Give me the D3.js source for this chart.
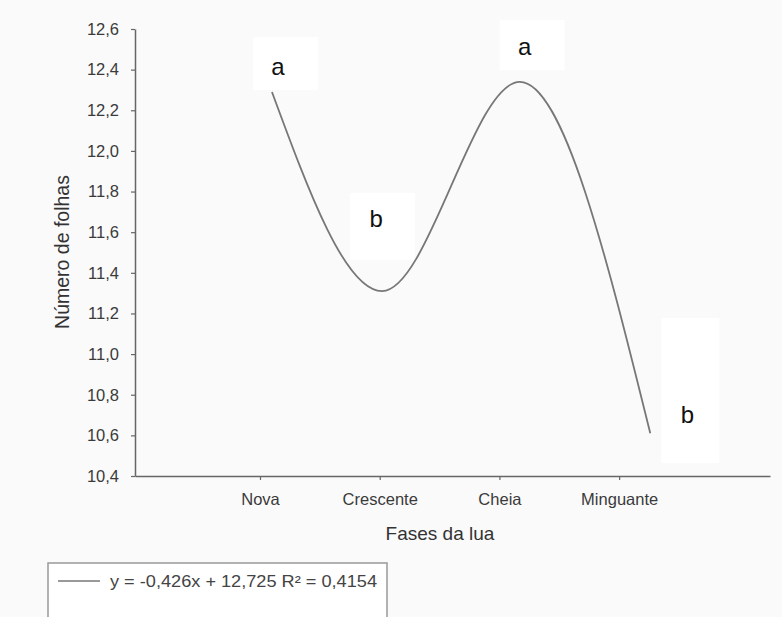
<!DOCTYPE html>
<html>
<head>
<meta charset="utf-8">
<script src="https://cdn.jsdelivr.net/npm/d3@7"></script>
<style>
  body { margin: 0; background: #fafafa; }
  svg { display: block; }
</style>
</head>
<body>
<div id="chart"></div>
<script>
// data
let phases = ["Nova", "Crescente", "Cheia", "Minguante"];
let curveX = [1.1, 2.02, 3.17, 4.26];
let curveY = [12.29, 11.31, 12.34, 10.61];
let letters = ["a", "b", "a", "b"];
let letterX = [1.15, 1.97, 3.21, 4.57];
let letterY = [12.374, 11.626, 12.472, 10.661];
let yTicks = [10.4, 10.6, 10.8, 11.0, 11.2, 11.4, 11.6, 11.8, 12.0, 12.2, 12.4, 12.6];
let legendText = "y = -0,426x + 12,725 R\u00b2 = 0,4154";

let width = 782;
let height = 617;

let svg = d3.select("#chart")
    .append("svg")
    .attr("width", width)
    .attr("height", height)
    .style("font-family", "'Liberation Sans', Arial, sans-serif");

svg.append("rect")
    .attr("width", width)
    .attr("height", height)
    .attr("fill", "#fafafa");

let xScale = d3.scaleLinear()
    .domain([-0.044, 5.26])
    .range([135, 770]);

let yScale = d3.scaleLinear()
    .domain([10.4, 12.6])
    .range([476, 29]);

// white boxes behind letters (as in the original figure)
let boxes = [[-25, -38, 65, 53], [-26, -34, 65, 67], [-25, -35, 65, 50], [-26, -105, 58, 145]];
letters.forEach((l, i) => {
    let b = boxes[i];
    svg.append("rect")
        .attr("x", xScale(letterX[i]) + b[0])
        .attr("y", yScale(letterY[i]) + b[1])
        .attr("width", b[2])
        .attr("height", b[3])
        .attr("fill", "#ffffff");
});

// y axis
let yAxis = d3.axisLeft(yScale)
    .tickValues(yTicks)
    .tickSizeInner(4)
    .tickSizeOuter(0)
    .tickPadding(12)
    .tickFormat(d => d3.format(".1f")(d).replace(".", ","));

let gy = svg.append("g")
    .attr("transform", "translate(135,0)")
    .call(yAxis);

// x axis
let xAxis = d3.axisBottom(xScale)
    .tickValues([1, 2, 3, 4])
    .tickSizeInner(4)
    .tickSizeOuter(0)
    .tickPadding(13)
    .tickFormat((d, i) => phases[i]);

let gx = svg.append("g")
    .attr("transform", "translate(0,476)")
    .call(xAxis);

[gx, gy].forEach(g => {
    g.select(".domain").attr("stroke", "#666").attr("stroke-width", 1.5);
    g.selectAll(".tick line").attr("stroke", "#666").attr("stroke-width", 1.2);
    g.selectAll(".tick text")
        .attr("fill", "#3a3a3a")
        .style("font-size", "16.5px")
        .style("font-family", "'Liberation Sans', Arial, sans-serif");
});

// curve
let line = d3.line()
    .x((d, i) => xScale(curveX[i]))
    .y(d => yScale(d))
    .curve(d3.curveMonotoneX);

svg.append("path")
    .datum(curveY)
    .attr("d", line)
    .attr("fill", "none")
    .attr("stroke", "#777")
    .attr("stroke-width", 1.8);

// letters
svg.selectAll(".letter")
    .data(letters)
    .enter()
    .append("text")
    .attr("class", "letter")
    .attr("x", (d, i) => xScale(letterX[i]))
    .attr("y", (d, i) => yScale(letterY[i]))
    .attr("text-anchor", "middle")
    .style("font-size", "24px")
    .attr("fill", "#111")
    .text(d => d);

// axis titles
svg.append("text")
    .attr("x", 440)
    .attr("y", 540)
    .attr("text-anchor", "middle")
    .style("font-size", "19px")
    .attr("fill", "#333")
    .text("Fases da lua");

svg.append("text")
    .attr("transform", "rotate(-90)")
    .attr("x", -252)
    .attr("y", 69)
    .attr("text-anchor", "middle")
    .style("font-size", "19.5px")
    .attr("fill", "#333")
    .text("Número de folhas");

// legend
svg.append("rect")
    .attr("x", 48)
    .attr("y", 563)
    .attr("width", 339)
    .attr("height", 70)
    .attr("fill", "#ffffff")
    .attr("stroke", "#999")
    .attr("stroke-width", 1.5);

svg.append("line")
    .attr("x1", 58)
    .attr("x2", 100)
    .attr("y1", 581)
    .attr("y2", 581)
    .attr("stroke", "#999")
    .attr("stroke-width", 2);

svg.append("text")
    .attr("x", 110)
    .attr("y", 587)
    .style("font-size", "16px")
    .attr("textLength", 267)
    .attr("lengthAdjust", "spacingAndGlyphs")
    .attr("fill", "#444")
    .text(legendText);
</script>
</body>
</html>
